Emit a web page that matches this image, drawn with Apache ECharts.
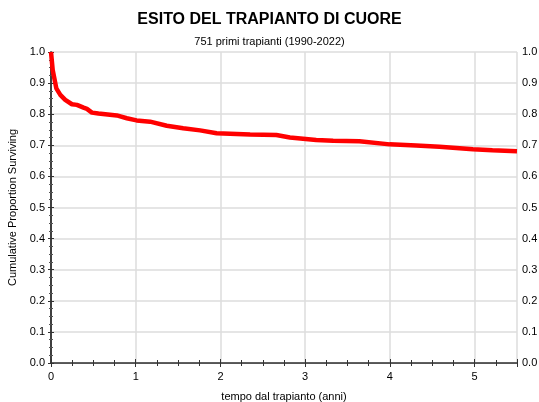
<!DOCTYPE html>
<html>
<head>
<meta charset="utf-8">
<script src="https://cdn.jsdelivr.net/npm/echarts@6/dist/echarts.min.js"></script>
<style>html,body{margin:0;padding:0;background:#fff}#c{width:539px;height:402px}</style>
</head>
<body>
<div id="c"></div>
<script>
const titleText = "ESITO DEL TRAPIANTO DI CUORE";
const subtitleText = "751 primi trapianti (1990-2022)";
const xName = "tempo dal trapianto (anni)";
const yName = "Cumulative Proportion Surviving";
const years = [0, 0.02, 0.063, 0.11, 0.168, 0.247, 0.306, 0.384, 0.424, 0.483, 0.56, 0.777, 0.895, 1.01, 1.17, 1.366, 1.56, 1.76, 1.955, 2.35, 2.66, 2.82, 3.13, 3.33, 3.64, 3.996, 4.31, 4.585, 4.98, 5.21, 5.5];
const surviving = [1.0, 0.942, 0.883, 0.862, 0.846, 0.832, 0.830, 0.821, 0.817, 0.805, 0.802, 0.796, 0.787, 0.780, 0.776, 0.763, 0.755, 0.748, 0.739, 0.735, 0.733, 0.725, 0.717, 0.715, 0.713, 0.703, 0.699, 0.695, 0.687, 0.684, 0.681];

const chart = echarts.init(document.getElementById('c'), null, {renderer: 'canvas'});
const font = 'Liberation Sans, Arial, sans-serif';
const axisLine = {show: true, lineStyle: {color: '#333', width: 1.5}};
chart.setOption({
  animation: false,
  backgroundColor: '#fff',
  title: [
    {text: titleText, left: 'center', top: 7, textStyle: {fontFamily: font, fontSize: 16, fontWeight: 'bold', color: '#000'}},
    {text: subtitleText, left: 'center', top: 31, textStyle: {fontFamily: font, fontSize: 11, fontWeight: 'normal', color: '#000'}}
  ],
  grid: {left: 51, right: 22, top: 52, bottom: 39, containLabel: false, outerBoundsMode: 'none'},
  xAxis: [
    {type: 'value', position: 'bottom', min: 0, max: 5.5, interval: 1,
     name: xName, nameLocation: 'middle', nameGap: 28,
     nameTextStyle: {fontFamily: font, fontSize: 11, color: '#000'},
     axisLine: axisLine,
     axisTick: {show: true, inside: true, length: 4, lineStyle: {color: '#333'}},
     minorTick: {show: true, splitNumber: 4, length: 3, lineStyle: {color: '#333'}},
     axisLabel: {fontFamily: font, fontSize: 11, color: '#000', margin: 8, showMaxLabel: false},
     splitLine: {show: true, lineStyle: {color: '#dcdcdc', width: 1.5}}},
    {type: 'value', position: 'top', min: 0, max: 5.5, interval: 1,
     axisLine: {show: true, lineStyle: {color: '#555', width: 1}},
     axisTick: {show: true, inside: true, length: 4, lineStyle: {color: '#333'}},
     minorTick: {show: true, splitNumber: 4, length: 3, lineStyle: {color: '#333'}},
     axisLabel: {show: false}, splitLine: {show: false}}
  ],
  yAxis: [
    {type: 'value', position: 'left', min: 0, max: 1, interval: 0.1,
     name: yName, nameLocation: 'middle', nameGap: 32,
     nameTextStyle: {fontFamily: font, fontSize: 11, color: '#000'},
     axisLine: axisLine,
     axisTick: {show: true, inside: false, length: 3, lineStyle: {color: '#333'}},
     minorTick: {show: true, splitNumber: 4, length: 2, lineStyle: {color: '#555'}},
     axisLabel: {fontFamily: font, fontSize: 11, color: '#000', margin: 6, formatter: v => v.toFixed(1)},
     splitLine: {show: true, lineStyle: {color: '#dcdcdc', width: 1.5}}},
    {type: 'value', position: 'right', min: 0, max: 1, interval: 0.1,
     axisLine: axisLine,
     axisTick: {show: true, inside: false, length: 3, lineStyle: {color: '#333'}},
     minorTick: {show: true, splitNumber: 4, length: 2, lineStyle: {color: '#555'}},
     axisLabel: {fontFamily: font, fontSize: 11, color: '#000', margin: 5, formatter: v => v.toFixed(1)},
     splitLine: {show: false}}
  ],
  series: [{
    type: 'line', xAxisIndex: 0, yAxisIndex: 0,
    data: years.map((x, i) => [x, surviving[i]]),
    showSymbol: false, symbol: 'none', clip: true,
    lineStyle: {color: '#ff0000', width: 4.5}
  }]
});
</script>
</body>
</html>
